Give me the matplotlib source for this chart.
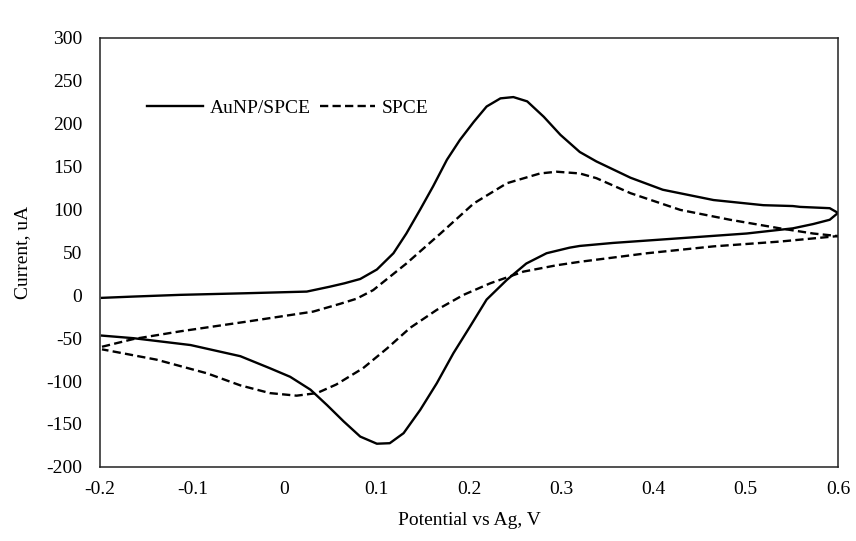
import matplotlib
matplotlib.use('Agg')
import matplotlib.pyplot as plt

# AuNP/SPCE cyclic voltammogram: forward scan to 0.6 V, then reverse scan
aunp_v = [-0.198, -0.164, -0.113, -0.041, 0.024, 0.049, 0.065, 0.082, 0.100, 0.118, 0.132,
          0.147, 0.161, 0.176, 0.190, 0.205, 0.219, 0.234, 0.248, 0.263, 0.281, 0.299,
          0.320, 0.338, 0.375, 0.410, 0.465, 0.519, 0.551, 0.559, 0.591, 0.600,
          0.591, 0.573, 0.551, 0.501, 0.429, 0.356, 0.320, 0.309, 0.284, 0.262, 0.241, 0.219,
          0.201, 0.183, 0.165, 0.147, 0.129, 0.114, 0.100, 0.082, 0.064, 0.046, 0.028,
          0.006, -0.016, -0.048, -0.102, -0.164, -0.198]
aunp_i = [-3, -1.5, 0.5, 2.4, 4.3, 10, 14, 19, 30, 49, 72,
          100, 127, 158, 181, 202, 220, 229.5, 231, 226, 208, 187,
          167, 156, 137, 123, 111, 105, 104, 103, 101.5, 96,
          88, 83, 78, 72, 66.5, 61, 57.5, 55.5, 49, 37, 18, -5,
          -36.5, -67.5, -102.5, -133.6, -160.7, -172.4, -173, -164.7, -147, -128, -110,
          -95, -85, -71, -58, -50, -47]

# bare SPCE
spce_v = [-0.198, -0.164, -0.113, -0.041, 0.031, 0.060, 0.078, 0.096, 0.132, 0.169, 0.205,
          0.241, 0.277, 0.295, 0.320, 0.338, 0.375, 0.429, 0.483, 0.537, 0.573, 0.600,
          0.537, 0.465, 0.393, 0.320, 0.295, 0.259, 0.223, 0.194, 0.165, 0.136, 0.111,
          0.085, 0.056, 0.035, 0.013, -0.016, -0.048, -0.084, -0.139, -0.198]
spce_i = [-60, -51, -42, -30.7, -19, -10, -4, 6, 37, 72, 107,
          130.6, 142, 144, 142, 136.5, 119, 99.5, 88, 78, 72, 69,
          62.6, 57, 49, 39, 35, 27.6, 14, 0.5, -17, -38, -62,
          -85, -104, -114, -117, -114, -105, -91, -75, -63]

plt.rcParams['font.family'] = ['Liberation Serif', 'DejaVu Serif']
plt.rcParams['axes.unicode_minus'] = False

fig = plt.figure(figsize=(8.56, 5.41), dpi=100)
ax = fig.add_axes([0.117, 0.137, 0.862, 0.793])

ax.plot(aunp_v, aunp_i, color='black', lw=1.7, solid_joinstyle='round', label='AuNP/SPCE')
ax.plot(spce_v, spce_i, color='black', lw=1.7, ls='--', dashes=(3.5, 1.8),
        dash_joinstyle='round', label='SPCE')

ax.set_xlim(-0.2, 0.6)
ax.set_ylim(-200, 300)
ax.set_xticks([-0.2, -0.1, 0, 0.1, 0.2, 0.3, 0.4, 0.5, 0.6])
ax.set_xticklabels(['-0.2', '-0.1', '0', '0.1', '0.2', '0.3', '0.4', '0.5', '0.6'])
ax.set_yticks(range(-200, 301, 50))
ax.tick_params(axis='x', length=0, labelsize=14, pad=10)
ax.tick_params(axis='y', length=0, labelsize=14, pad=13)
ax.set_xlabel('Potential vs Ag, V', fontsize=14, labelpad=10)
ax.set_ylabel('Current, uA', fontsize=14, labelpad=11)
for s in ax.spines.values():
    s.set_linewidth(1.1)
    s.set_color('#222222')

ax.legend(loc='center left', bbox_to_anchor=(0.064, 0.836), ncol=2, frameon=False,
          fontsize=14, handlelength=2.84, columnspacing=0.46, handletextpad=0.36,
          borderpad=0, borderaxespad=0)

fig.savefig('out.png', dpi=100)
